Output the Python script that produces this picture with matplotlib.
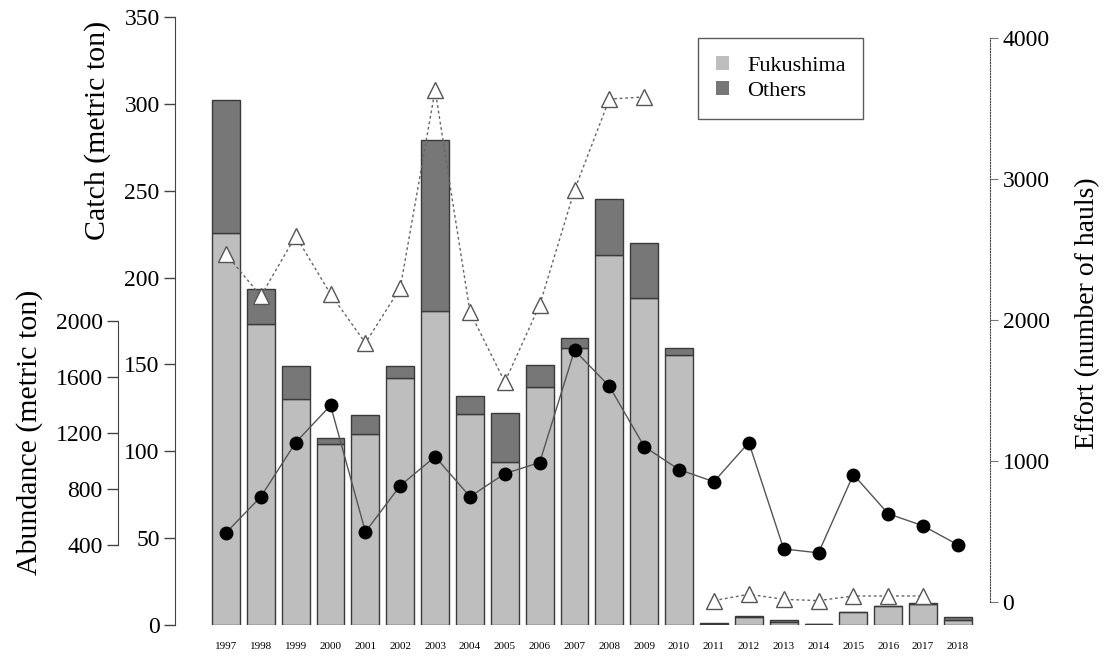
import numpy as np
import matplotlib
matplotlib.use('Agg')
import matplotlib.pyplot as plt
from matplotlib.patches import Patch

plt.rcParams['font.family'] = ['Liberation Serif', 'DejaVu Serif']

years = list(range(1997, 2019))
fukushima = [225.7, 173.3, 130.1, 104.2, 110.0, 142.2, 180.8, 121.5, 93.8, 137.0, 159.5,
             213.0, 188.3, 155.4, 0.5, 4.4, 1.9, 0.3, 7.3, 11.1, 12.1, 3.1]
catch_total = [302.0, 193.4, 149.1, 107.7, 120.9, 149.1, 279.2, 131.8, 122.0, 149.7, 165.2,
               245.3, 219.9, 159.5, 1.0, 5.4, 2.9, 0.4, 7.3, 11.1, 12.8, 4.8]
abundance = [487, 745, 1132, 1397, 494, 824, 1031, 745, 910, 989, 1791,
             1533, 1103, 938, 852, 1132, 372, 344, 903, 623, 537, 401]
effort = [2468, 2170, 2596, 2184, 1837, 2227, 3631, 2057, 1560, 2106, 2922,
          3567, 3582, np.nan, 10, 55, 19, 10, 43, 43, 43]
effort = effort + [np.nan]  # no effort value for 2018

others = [t - f for t, f in zip(catch_total, fukushima)]
x = np.arange(len(years))

W, H = 1108, 659
fig = plt.figure(figsize=(W / 100, H / 100), dpi=100)
ax = fig.add_axes([175 / W, (H - 625) / H, (990 - 175) / W, (625 - 17) / H])

light = '#bebebe'
dark = '#777777'
edge = '#3a3a3a'

# catch bars
ax.bar(x, fukushima, width=0.8, color=light, edgecolor=edge, linewidth=1)
ax.bar(x, others, bottom=fukushima, width=0.8, color=dark, edgecolor=edge, linewidth=1)
ax.set_xlim(-1.463, 21.92)
ax.set_ylim(0, 350)
ax.set_yticks(range(0, 351, 50))
ax.tick_params(axis='y', labelsize=17, length=8, width=1, color='#444444', pad=3)
ax.set_xticks(x)
ax.set_xticklabels(years, fontsize=8)
ax.tick_params(axis='x', length=0, pad=12)
for s in ['top', 'right', 'bottom']:
    ax.spines[s].set_visible(False)
ax.spines['left'].set_color('#444444')

# abundance axis (inner left)
ax2 = ax.twinx()
ax2.plot(x, abundance, color='#555555', linewidth=1, marker='o', markersize=9,
         markerfacecolor='black', markeredgecolor='black', zorder=3)
ax2.set_ylim(-171.4, 4171)
ax2.yaxis.tick_left()
ax2.spines['left'].set_position(('axes', (118 - 175) / 815))
ax2.spines['left'].set_bounds(400, 2000)
ax2.spines['left'].set_color('#444444')
for s in ['top', 'right', 'bottom']:
    ax2.spines[s].set_visible(False)
ax2.set_yticks(range(400, 2001, 400))
ax2.tick_params(axis='y', labelsize=17, length=8, width=1, color='#444444', pad=3)

# effort axis (right, dotted)
ax3 = ax.twinx()
ax3.plot(x, effort, color='#666666', linewidth=1, linestyle=(0, (2, 2)), marker='^',
         markersize=12, markerfacecolor='white', markeredgecolor='#555555',
         markeredgewidth=1)
ax3.set_ylim(-163, 4149)
ax3.set_yticks(range(0, 4001, 1000))
ax3.spines['right'].set_bounds(0, 4000)
ax3.spines['right'].set_linestyle((0, (1, 1.5)))
ax3.spines['right'].set_color('#444444')
for s in ['top', 'left', 'bottom']:
    ax3.spines[s].set_visible(False)
ax3.tick_params(axis='y', labelsize=17, length=6, width=0.8, color='#777777', pad=3)

# axis titles
fig.text(98 / W, 1 - 130 / H, 'Catch (metric ton)', rotation=90, fontsize=21.5,
         ha='center', va='center')
fig.text(30 / W, 1 - 432 / H, 'Abundance (metric ton)', rotation=90, fontsize=21.5,
         ha='center', va='center')
fig.text(1088 / W, 1 - 313 / H, 'Effort (number of hauls)', rotation=90, fontsize=20,
         ha='center', va='center')

handles = [Patch(facecolor=light, edgecolor='none'), Patch(facecolor=dark, edgecolor='none')]
leg = fig.legend(handles, ['Fukushima', 'Others'], loc='upper left',
                 bbox_to_anchor=(698 / W, 1 - 38 / H), fontsize=16, frameon=True,
                 fancybox=False, handlelength=0.6, handleheight=0.6, handletextpad=0.8,
                 borderpad=0.8, labelspacing=0.25, borderaxespad=0)
leg.get_frame().set_edgecolor('#333333')
leg.get_frame().set_linewidth(1)

fig.savefig('out.png', dpi=100)
